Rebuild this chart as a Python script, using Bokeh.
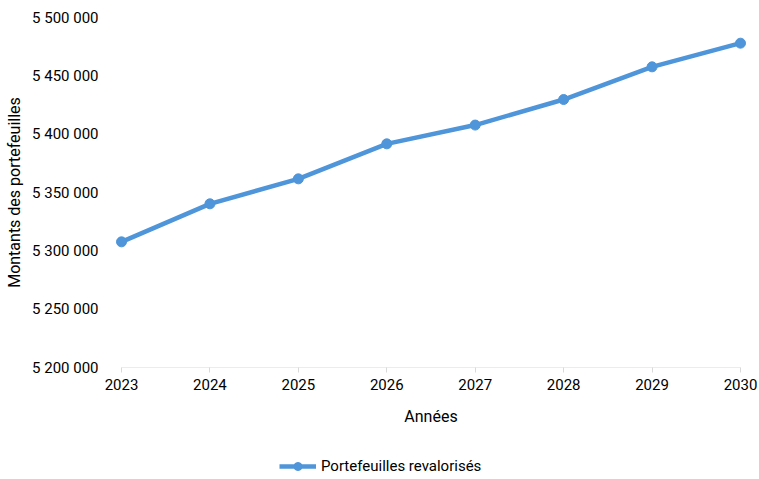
from bokeh.plotting import figure
from bokeh.layouts import column
from bokeh.models import Range1d, FixedTicker, CustomJSTickFormatter, Legend, LegendItem
from bokeh.embed import file_html
from bokeh.resources import INLINE

years = [2023, 2024, 2025, 2026, 2027, 2028, 2029, 2030]
portefeuilles = [5307700, 5340300, 5361700, 5391700, 5407800, 5429700, 5457700, 5478000]
y_ticks = [5200000, 5250000, 5300000, 5350000, 5400000, 5450000, 5500000]
series_name = "Portefeuilles revalorisés"
x_title = "Années"
y_title = "Montants des portefeuilles"

FONT = "Roboto"
BLUE = "#4E95D9"
PAD = 0.068

p = figure(frame_width=631, frame_height=350, output_backend="svg", toolbar_location=None,
           x_range=Range1d(years[0] - PAD, years[-1] + PAD),
           y_range=Range1d(y_ticks[0], y_ticks[-1]),
           min_border_left=115, min_border_right=13, min_border_top=17, min_border_bottom=65)
p.outline_line_color = None
p.xgrid.grid_line_color = None
p.ygrid.grid_line_color = None

# axis baseline from first to last year
p.segment(x0=[years[0]], y0=[y_ticks[0]], x1=[years[-1]], y1=[y_ticks[0]],
          line_color="#d9d9d9", line_width=1)

ln = p.line(years, portefeuilles, line_color=BLUE, line_width=4.5)
sc = p.scatter(years, portefeuilles, size=10, fill_color=BLUE, line_color=BLUE)

xa = p.xaxis[0]
xa.ticker = FixedTicker(ticks=years)
xa.axis_line_color = None
xa.major_tick_line_color = "#d9d9d9"
xa.major_tick_out = 5
xa.major_tick_in = 0
xa.minor_tick_line_color = None
xa.major_label_text_font = FONT
xa.major_label_text_font_size = "15px"
xa.major_label_text_color = "#000000"
xa.major_label_standoff = 6
xa.axis_label = x_title
xa.axis_label_text_font = FONT
xa.axis_label_text_font_size = "16px"
xa.axis_label_text_font_style = "normal"
xa.axis_label_text_color = "#000000"
xa.axis_label_standoff = 14

ya = p.yaxis[0]
ya.ticker = FixedTicker(ticks=y_ticks)
ya.formatter = CustomJSTickFormatter(code="""
return Math.round(tick).toString().replace(/\\B(?=(\\d{3})+(?!\\d))/g, " ");
""")
ya.axis_line_color = None
ya.major_tick_line_color = None
ya.minor_tick_line_color = None
ya.major_label_text_font = FONT
ya.major_label_text_font_size = "15px"
ya.major_label_text_color = "#000000"
ya.major_label_standoff = 11
ya.axis_label = y_title
ya.axis_label_text_font = FONT
ya.axis_label_text_font_size = "16px"
ya.axis_label_text_font_style = "normal"
ya.axis_label_text_color = "#000000"
ya.axis_label_standoff = 5

# legend strip below the chart (series drawn out of its view; only the legend shows)
p2 = figure(width=759, height=47, output_backend="svg", toolbar_location=None,
            x_range=Range1d(0, 1), y_range=Range1d(0, 1),
            min_border=0, x_axis_type=None, y_axis_type=None)
p2.outline_line_color = None
p2.xgrid.grid_line_color = None
p2.ygrid.grid_line_color = None
lk = p2.line(years, portefeuilles, line_color=BLUE, line_width=4.5)
sk = p2.scatter(years, portefeuilles, size=10, fill_color=BLUE, line_color=BLUE)

legend = Legend(items=[LegendItem(label=series_name, renderers=[lk, sk])],
                orientation="horizontal", border_line_color=None, background_fill_alpha=0,
                label_text_font=FONT, label_text_font_size="15px", label_text_color="#000000",
                glyph_width=37, label_standoff=5, margin=0, padding=0, spacing=0,
                location=(164, 3))
p2.add_layout(legend, "center")

layout = column(p, p2, spacing=0)
html = file_html(layout, INLINE)
open("out.html", "w").write(html)
